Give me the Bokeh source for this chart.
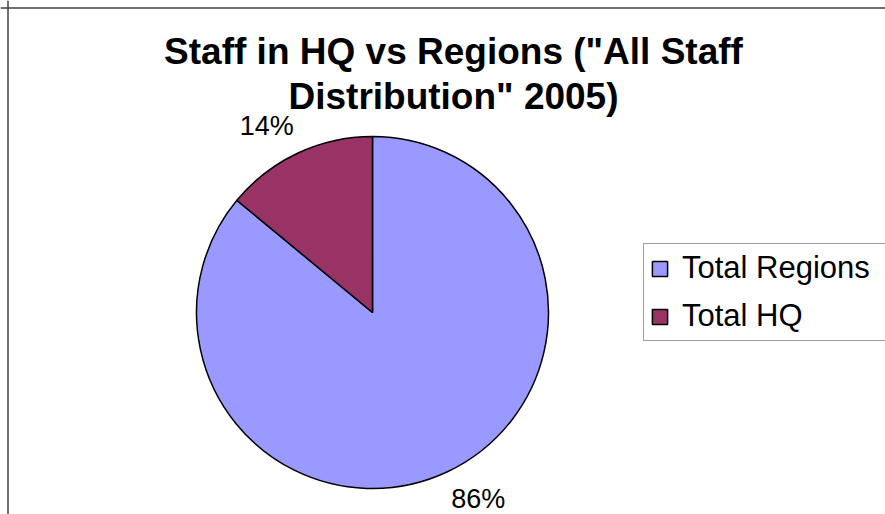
import math
from bokeh.plotting import figure
from bokeh.models import Range1d, Legend, LegendItem, Label, Span
from bokeh.embed import file_html
from bokeh.resources import INLINE

# ---- data ----
title_lines = ['Staff in HQ vs Regions ("All Staff', 'Distribution" 2005)']
categories = ["Total Regions", "Total HQ"]
shares = [86, 14]
colors = ["#9999FF", "#993366"]

# ---- layout (canvas pixels) ----
W, H = 885, 514
CX, CY = 372, 312          # pie centre measured from canvas left / top
R = 176
FONT = "Liberation Sans"

p = figure(width=W, height=H, output_backend="svg", toolbar_location=None,
           x_range=Range1d(-CX, W - CX), y_range=Range1d(-(H - CY), CY),
           x_axis_location=None, y_axis_location=None, min_border=0,
           outline_line_color=None, background_fill_color="white",
           border_fill_color="white")
p.grid.visible = False

# chart frame (left and top edges only visible in the reference)
p.add_layout(Span(location=-CX + 7.5, dimension="height", line_color="#404040", line_width=1.5))
p.add_layout(Span(location=CY - 7.5, dimension="width", line_color="#404040", line_width=1.5))

total = float(sum(shares))
cum = 0.0
items = []
for cat, v, col in zip(categories, shares, colors):
    a0 = math.radians(90 - cum / total * 360)
    cum += v
    a1 = math.radians(90 - cum / total * 360)
    r = p.wedge(x=0, y=0, radius=R, start_angle=a1, end_angle=a0,
                direction="anticlock", fill_color=col, line_color="black",
                line_width=1.5)
    items.append(LegendItem(label=cat, renderers=[r]))
    mid = (a0 + a1) / 2 + 0.075
    lr = R * 1.22
    p.add_layout(Label(x=lr * math.cos(mid), y=lr * math.sin(mid),
                       text=f"{round(v / total * 100)}%",
                       text_font=FONT, text_font_size="27px", text_color="black",
                       text_align="center", text_baseline="middle"))

# title
TX = 453 - CX
for i, line in enumerate(title_lines):
    p.add_layout(Label(x=TX, y=CY - (51 + 45 * i), text=line, text_font=FONT,
                       text_font_size="37px", text_font_style="bold",
                       text_align="center", text_baseline="alphabetic",
                       text_color="black"))

legend = Legend(items=items, location=(643, H - 341),
                label_text_font=FONT, label_text_font_size="31px",
                label_text_color="black", label_width=205,
                glyph_width=19, glyph_height=19, label_standoff=13,
                spacing=12, padding=6, margin=0,
                border_line_color="#404040", border_line_width=1,
                background_fill_color="white", background_fill_alpha=1)
p.add_layout(legend)

open("out.html", "w").write(file_html(p, INLINE))
